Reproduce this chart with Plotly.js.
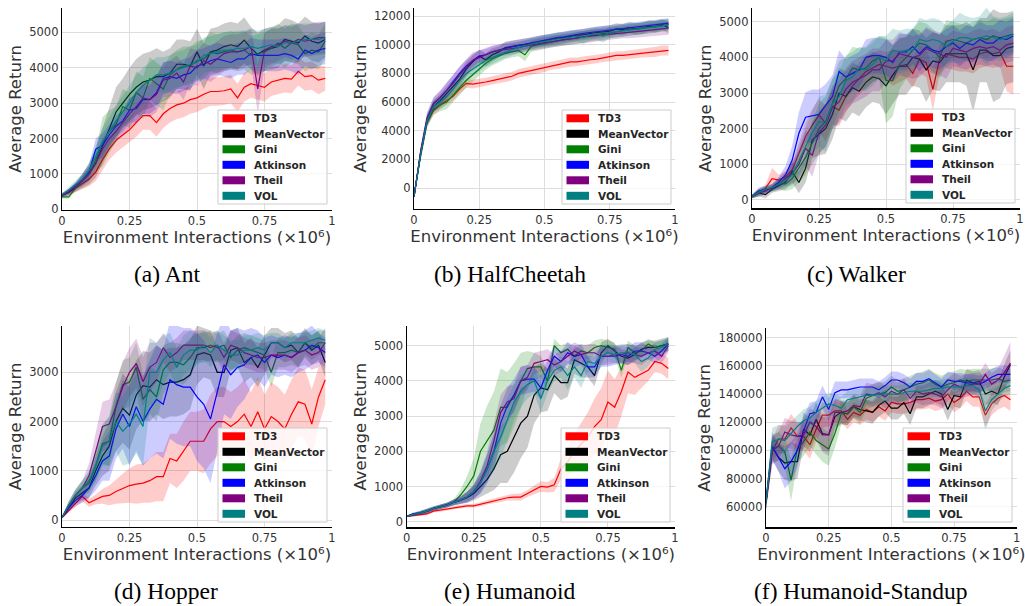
<!DOCTYPE html>
<html>
<head>
<meta charset="utf-8">
<script src="https://cdn.plot.ly/plotly-3.0.1.min.js"></script>
<style>html,body{margin:0;padding:0;background:#fff;}#chart{width:1025px;height:606px;}</style>
</head>
<body>
<div id="chart"></div>
<script>
// ---------------- DATA ----------------
const names = ['TD3','MeanVector','Gini','Atkinson','Theil','VOL'];
const steps = [0,0.025,0.05,0.075,0.1,0.125,0.15,0.175,0.2,0.225,0.25,0.275,0.3,0.325,0.35,0.375,0.4,0.425,0.45,0.475,0.5,0.525,0.55,0.575,0.6,0.625,0.65,0.675,0.7,0.725,0.75,0.775,0.8,0.825,0.85,0.875,0.9,0.925,0.95,0.975];
const xTickVals = [0,0.25,0.5,0.75,1];
const xTickText = ['0','0.25','0.5','0.75','1'];
const captions = ['(a) Ant','(b) HalfCheetah','(c) Walker','(d) Hopper','(e) Humanoid','(f) Humanoid-Standup'];

// Ant
const ant_td3   = [400,480,600,720,850,1050,1400,1700,1950,2100,2250,2450,2650,2650,2450,2700,2850,2950,3000,3100,3150,3250,3330,3330,3350,3400,3150,3450,3550,3500,3450,3600,3650,3700,3680,3900,3750,3780,3650,3700];
const ant_mv    = [400,480,620,800,1000,1300,1800,2300,2750,3000,3250,3450,3600,3650,3750,3750,3850,4100,4100,4050,4450,4050,4450,4500,4600,4650,4600,4780,4550,4380,4500,4550,4600,4800,4750,4700,4900,4750,4700,4800];
const ant_gini  = [350,350,600,800,1000,1400,1900,2200,2400,2900,2800,3300,3150,3700,3550,3400,3800,3950,4050,4050,4200,4250,4450,4400,4450,4500,4450,4500,4350,4400,4450,4550,4700,4550,4700,4650,4400,4500,4450,4750];
const ant_atk   = [400,500,650,850,1050,1700,1800,2100,2350,2500,2800,2850,3100,3100,3300,3700,3750,3700,3800,3850,4050,4100,4200,4250,4200,4150,4250,4250,4400,4350,4350,4350,4350,4400,4350,4250,4500,4400,4500,4550];
const ant_theil = [400,500,650,800,1000,1300,1700,2000,2200,2450,2700,2900,3150,3100,3250,3650,3700,3850,3600,4050,4000,4200,4100,4250,4400,4450,4450,4500,4600,3400,4500,4600,4650,4750,4700,4800,4750,4800,4850,4850];
const ant_vol   = [400,550,700,850,1100,1500,1900,2200,2500,2750,3000,3300,3500,3650,3800,3800,3850,3950,4000,4100,4150,4350,4400,4450,4500,4500,4550,4550,4600,4550,4600,4650,4600,4700,4700,4750,4800,4800,4800,4850];
const ant_td3_sd   = [50,80,100,150,200,250,300,300,350,350,350,400,400,400,400,400,400,400,400,400,400,400,400,400,400,400,400,400,400,400,400,400,400,400,400,400,400,400,400,350];
const ant_mv_sd    = [50,80,120,200,300,400,500,600,700,700,750,800,800,800,800,700,700,700,700,700,650,650,650,650,650,650,650,650,600,600,600,600,600,600,600,550,550,550,550,500];
const ant_gini_sd  = [50,50,80,150,200,300,700,600,500,500,500,600,600,600,600,600,550,550,550,550,550,550,550,550,550,550,550,550,550,550,550,550,550,550,550,550,500,500,500,500];
const ant_atk_sd   = [50,80,100,150,200,300,350,300,300,300,350,400,400,400,450,450,450,450,450,450,450,450,450,450,450,450,450,450,450,450,450,450,450,450,450,450,450,450,450,450];
const ant_theil_sd = [50,80,100,150,200,250,300,300,300,350,400,450,450,500,500,500,500,500,500,500,500,500,500,500,500,500,500,500,500,700,500,500,450,450,450,450,450,450,450,450];
const ant_vol_sd   = [50,80,100,150,200,300,400,400,450,450,500,500,500,500,500,500,500,500,500,500,500,500,500,500,500,500,500,500,500,500,500,500,500,500,500,500,450,450,450,450];

// HalfCheetah
const hc_td3   = [-600,2300,4600,5400,5800,6100,6400,6900,7300,7250,7300,7400,7500,7600,7700,7800,8000,8100,8200,8300,8400,8550,8600,8700,8800,8800,8900,8950,9000,9100,9150,9250,9250,9300,9350,9400,9450,9500,9600,9600];
const hc_mv    = [-600,2400,4700,5700,6100,6600,7100,7600,8300,8800,9200,8950,9300,9500,9800,9900,9950,10000,10100,10200,10300,10350,10450,10500,10600,10650,10700,10800,10850,10900,10950,11100,11050,11200,11100,11150,11300,11250,11400,11200];
const hc_gini  = [-600,2300,4600,5500,5800,6000,6500,7000,7500,7900,8300,8700,9000,9200,9400,9500,9600,9300,9900,10000,10100,10200,10300,10350,10400,10450,10550,10650,10700,10750,10850,10900,11000,11050,11100,11150,11200,11250,11300,11400];
const hc_atk   = [-600,2400,4800,5900,6300,6800,7400,8000,8500,8900,9200,9300,9500,9650,9750,9850,9950,10050,10150,10250,10350,10400,10500,10550,10650,10700,10800,10850,10900,10950,11000,11050,11100,11150,11200,11300,11350,11400,11450,11500];
const hc_theil = [-600,2500,4900,5900,6300,6800,7300,7900,8400,8900,9100,9300,9500,9600,9650,9700,9800,9900,10000,10100,10150,10200,10300,10350,10400,10500,10550,10600,10650,10700,10750,10800,10850,10850,10900,10950,11000,11050,11100,11150];
const hc_vol   = [-600,2300,4700,5700,6000,6400,6900,7500,8000,8300,8600,8900,9100,9300,9500,9650,9800,9950,10050,10150,10250,10300,10400,10450,10550,10600,10500,10700,10750,10600,10850,10900,10950,11000,11050,11100,11200,11250,11300,11400];
const hc_td3_sd   = [100,400,300,300,300,300,300,300,300,300,300,300,300,300,300,300,300,300,300,300,300,300,300,300,300,300,300,300,300,300,300,300,300,300,300,300,300,350,350,350];
const hc_mv_sd    = [100,400,400,400,450,500,500,500,500,450,450,450,450,400,400,400,400,400,400,400,400,400,400,400,400,400,400,400,400,400,400,400,400,400,400,400,400,400,400,400];
const hc_gini_sd  = [100,400,400,400,450,500,500,500,500,450,450,450,450,450,400,400,400,450,400,400,400,400,400,400,400,400,400,400,400,400,400,400,400,400,400,400,400,400,400,400];
const hc_atk_sd   = [100,400,400,400,450,500,500,500,450,450,400,400,400,400,400,400,400,400,350,350,350,350,350,350,350,350,350,350,350,350,350,350,350,350,350,350,350,350,350,350];
const hc_theil_sd = [100,400,400,450,500,550,600,600,600,550,500,450,450,400,400,400,400,400,400,400,400,400,400,400,400,400,400,400,400,400,400,400,400,400,450,450,450,450,450,450];
const hc_vol_sd   = [100,400,400,400,450,500,500,500,500,450,450,450,450,400,400,400,400,400,400,400,400,400,450,400,400,400,450,400,400,450,400,400,400,400,400,400,400,400,400,400];

// Walker
const wk_td3   = [100,200,330,600,560,650,840,1300,1780,2100,2380,2150,2620,2520,2900,3200,3400,3600,3700,3800,3750,3700,3750,3800,3550,3950,3850,3100,3950,4100,4050,4000,4000,3950,4100,4150,4100,4150,3750,3750];
const wk_mv    = [100,200,150,300,400,500,800,490,890,1680,1850,2000,2400,3000,2900,3150,3050,3300,3450,3400,3200,3500,3750,3750,4000,3950,3650,3900,3850,4100,4100,4100,4100,3650,4200,4200,4050,4050,4250,4300];
const wk_gini  = [100,200,280,330,450,450,600,900,1200,1600,2000,2200,2700,3200,3400,3700,3650,3700,3900,4000,3350,3350,3800,4000,4200,4400,4350,4200,4000,4450,4500,4450,4400,4500,4550,4500,4600,4550,4600,4650];
const wk_atk   = [100,250,300,350,500,700,1120,1870,2320,2350,2400,2650,2900,3600,3450,3550,3650,4000,4050,4050,4000,3850,4150,4150,4300,4100,4300,4200,4150,4300,4400,4250,4400,4350,4500,4400,4400,4550,4500,4600];
const wk_theil = [100,200,250,350,450,600,750,1000,1450,1250,1900,2100,2600,2750,3100,3300,3400,3500,3650,3650,3900,3900,4100,4050,4000,4050,4250,4150,4100,4000,4250,4200,4150,4250,4300,4250,4300,4200,4350,4400];
const wk_vol   = [100,220,300,350,450,550,700,1100,1500,1900,2200,2150,2700,2900,3350,3450,3700,3650,3800,4000,3900,4200,4150,4200,4200,4500,4450,4500,4450,4300,4450,4550,4550,4500,4550,4600,4550,4500,4550,4650];
const wk_td3_sd   = [50,80,100,300,150,150,200,300,400,450,450,500,500,450,450,450,450,450,400,400,400,500,450,400,400,400,400,600,400,400,400,400,400,400,400,400,400,400,700,800];
const wk_mv_sd    = [50,100,100,100,150,200,300,300,400,500,600,700,700,700,700,700,700,700,700,700,800,800,800,800,800,800,900,800,800,800,800,800,900,1200,900,900,1300,1200,1000,1000];
const wk_gini_sd  = [50,100,100,100,150,200,300,400,500,600,700,700,700,700,600,600,600,600,600,600,1200,1000,700,600,600,600,600,600,600,600,500,500,500,500,500,500,500,500,500,500];
const wk_atk_sd   = [50,100,100,100,150,250,400,600,700,750,700,600,600,600,500,500,500,500,500,500,500,500,500,500,500,500,500,500,500,500,500,500,500,500,500,500,500,500,500,500];
const wk_theil_sd = [50,100,100,100,150,200,300,400,500,600,600,600,600,600,600,600,600,600,600,600,600,600,600,600,600,600,600,600,600,600,500,500,500,500,500,500,500,500,500,500];
const wk_vol_sd   = [50,100,100,100,150,200,300,400,500,600,700,800,700,700,700,700,600,600,600,600,700,600,600,600,600,600,600,600,600,600,600,700,600,600,600,800,600,600,600,600];

// Hopper
const hp_td3   = [50,200,350,480,350,420,480,500,580,640,700,730,750,800,880,880,1250,1200,1400,1600,1600,1600,1850,2000,2000,1900,2000,2150,1900,2200,1850,2100,2000,1850,2150,2400,2350,1950,2500,2850];
const hp_mv    = [50,250,450,550,650,1000,1300,1500,2000,2270,2130,2540,2730,2700,2850,2750,2800,2800,2850,2950,3350,3400,3350,3000,3000,3450,3500,3200,3300,3100,3350,3600,3600,3500,3550,3400,3600,3450,3550,3200];
const hp_gini  = [50,300,500,650,750,1100,1550,1600,2300,2750,2800,3100,2450,2650,2500,3050,3200,3200,3150,3300,3500,3500,3550,3500,3550,3300,3450,3500,3450,3400,3350,3000,3400,3400,3450,3400,3600,3500,3600,3600];
const hp_atk   = [50,250,400,500,650,900,1200,1300,1850,2150,1900,2300,2000,2250,2450,2350,2850,2750,2700,2700,2500,2350,2050,2600,3150,2950,3100,3150,3300,3350,3200,3350,3300,3350,3300,3400,3450,3550,3500,3400];
const hp_theil = [50,300,500,650,900,1400,1900,1950,2300,2700,3000,3180,2810,3100,3200,3500,3300,3400,3550,3550,3550,3550,3500,3550,3300,3550,3500,3400,3350,3300,3300,3350,3350,3350,3300,3400,3450,3350,3400,3600];
const hp_vol   = [50,300,500,650,800,1100,1500,1600,2000,1800,1950,2150,1900,3000,3000,3250,3400,3100,3350,3450,3450,3550,3400,3550,3450,3350,3350,3450,3450,3500,3450,3600,3600,3500,3600,3600,3600,3650,3700,3650];
const hp_td3_sd   = [20,50,80,100,80,100,150,200,250,300,350,400,400,450,500,500,500,550,600,600,600,650,700,700,700,700,700,700,700,700,700,700,700,700,700,700,700,700,600,500];
const hp_mv_sd    = [20,80,120,150,200,300,400,500,600,700,700,700,700,700,700,700,700,700,700,700,600,500,500,500,500,400,400,400,400,400,400,300,300,300,300,300,300,300,300,300];
const hp_gini_sd  = [20,80,120,150,200,300,400,500,500,500,500,500,500,500,500,500,400,400,400,400,300,300,300,300,300,300,300,300,300,300,300,300,300,300,300,300,250,250,250,250];
const hp_atk_sd   = [20,80,120,150,200,300,400,500,600,700,800,900,900,1000,1100,1100,1200,1200,1200,1200,1300,1300,1300,1200,1000,900,800,700,600,500,500,400,400,400,400,400,400,400,300,300];
const hp_theil_sd = [20,80,120,150,250,400,500,500,500,500,500,500,500,500,400,300,300,300,300,300,300,300,300,300,300,300,300,300,300,300,300,300,300,300,300,300,300,300,300,300];
const hp_vol_sd   = [20,80,120,150,200,300,400,500,600,700,800,800,800,700,600,500,400,400,400,400,300,300,300,300,300,300,300,300,300,300,300,200,200,200,200,200,200,200,200,200];

// Humanoid
const hm_td3   = [150,170,180,220,300,330,360,400,430,450,450,500,550,600,640,680,700,700,800,900,1000,980,1050,1500,1700,2000,2200,2400,2700,2900,3400,3250,3700,4250,4100,4200,4300,4550,4500,4350];
const hm_mv    = [150,200,250,300,380,430,470,550,600,680,800,1000,1200,1500,1900,2000,2400,2800,3000,3600,3800,3750,4150,3950,3950,4600,4500,4400,4150,4800,5000,4850,4700,4650,4750,4900,4950,4950,5000,5050];
const hm_gini  = [150,220,250,300,380,430,470,550,750,1000,1300,2000,2300,2600,3250,3250,3600,4000,4350,4400,4400,4000,5000,4800,4900,4700,4850,4800,4950,5000,4950,4900,4300,4950,4800,4850,5050,4950,5000,5050];
const hm_atk   = [150,220,250,300,380,430,470,550,600,700,850,1100,1500,2000,2800,3300,3600,4000,4050,4050,3800,4300,4700,4550,4800,4700,4750,4400,4400,4700,4700,4700,4750,4700,4850,4850,4800,4700,4850,5050];
const hm_theil = [150,200,230,290,370,430,470,550,620,700,850,1150,1600,2300,3100,3400,3500,4000,4100,4500,4550,4600,4450,4550,4700,4850,4750,4800,4800,4700,4700,4750,4750,4800,4750,4700,4800,4850,4700,5000];
const hm_vol   = [150,200,250,300,380,430,470,550,600,700,850,1100,1500,2000,2400,2900,3400,3700,3900,4000,3500,4000,4300,4400,4150,4400,4150,4550,4500,4700,4800,4750,4800,4800,4750,4550,4650,4900,4950,5050];
const hm_td3_sd   = [20,30,30,40,40,50,50,50,50,50,50,60,60,70,80,80,90,100,100,120,150,150,200,300,400,500,600,700,800,900,900,800,700,600,500,400,300,300,300,300];
const hm_mv_sd    = [20,40,50,60,60,60,70,80,100,150,200,300,400,600,800,900,1000,1000,900,800,700,600,500,500,400,400,400,300,300,300,200,200,200,200,200,200,200,200,200,200];
const hm_gini_sd  = [20,40,50,60,60,60,70,80,150,300,500,800,1000,1100,1100,1000,900,800,500,400,300,300,200,200,200,200,200,200,200,200,200,200,200,200,200,200,150,150,150,150];
const hm_atk_sd   = [20,40,50,60,60,60,70,80,100,150,200,300,400,500,500,500,450,400,400,350,350,300,300,300,300,300,300,300,300,300,300,250,250,250,250,250,200,200,200,200];
const hm_theil_sd = [20,40,50,60,60,60,70,80,100,150,200,300,400,500,500,450,400,400,350,300,300,300,300,300,250,250,250,250,250,250,250,250,250,250,250,250,200,200,200,200];
const hm_vol_sd   = [20,40,50,60,60,60,70,80,100,150,200,300,400,500,600,600,500,450,400,350,400,350,300,300,400,300,350,300,300,300,250,250,250,250,250,300,250,200,200,200];

// Humanoid-Standup
const hs_td3   = [63000,100000,108000,108000,116000,110000,110000,104000,115000,125000,125000,128000,128000,122000,127000,125000,129000,127000,131000,128000,134000,133000,133000,134000,136000,136000,137000,135000,136000,140000,134000,137000,142000,138000,138000,125000,133000,137000,139000,136000];
const hs_mv    = [63000,102000,95000,91000,92000,92000,115000,111000,122000,112000,111000,124000,127000,126000,131000,129000,128000,127000,132000,135000,130000,130000,134000,126000,138000,138000,140000,142000,140000,129000,139000,138000,150000,148000,149000,140000,142000,140000,152000,161000];
const hs_gini  = [63000,101000,103000,99000,79000,101000,106000,113000,107000,104000,101000,112000,126000,126000,131000,127000,137000,139000,140000,141000,145000,142000,143000,145000,147000,148000,150000,147000,145000,147000,148000,150000,149000,150000,150000,150000,150000,151000,149000,150000];
const hs_atk   = [63000,103000,95000,87000,92000,100000,114000,126000,127000,138000,129000,141000,143000,143000,144000,145000,145000,145000,143000,146000,150000,150000,148000,145000,149000,149000,151000,148000,145000,150000,149000,149000,148000,148000,147000,149000,152000,154000,154000,154000];
const hs_theil = [63000,100000,103000,113000,111000,110000,111000,120000,117000,111000,111000,127000,127000,128000,132000,131000,140000,139000,141000,138000,142000,140000,143000,137000,142000,140000,141000,140000,138000,143000,147000,145000,146000,147000,147000,154000,147000,150000,155000,162000];
const hs_vol   = [63000,106000,108000,107000,112000,117000,121000,123000,127000,130000,133000,132000,130000,136000,137000,138000,139000,139000,140000,140000,140000,140000,141000,142000,142000,142000,143000,144000,144000,145000,145000,145000,146000,146000,143000,128000,136000,140000,144000,146000];
const hs_td3_sd   = [5000,8000,10000,10000,10000,10000,10000,10000,9000,9000,8000,8000,8000,7000,7000,7000,7000,7000,7000,7000,7000,7000,7000,7000,7000,7000,7000,7000,7000,7000,7000,7000,7000,7000,7000,8000,8000,8000,8000,8000];
const hs_mv_sd    = [5000,8000,10000,12000,14000,12000,12000,12000,12000,12000,12000,10000,8000,8000,8000,8000,8000,8000,8000,8000,8000,8000,8000,8000,8000,8000,8000,8000,8000,8000,8000,8000,8000,8000,8000,8000,8000,8000,9000,10000];
const hs_gini_sd  = [5000,10000,10000,10000,15000,10000,10000,10000,10000,12000,12000,10000,8000,8000,8000,8000,8000,8000,8000,8000,8000,8000,8000,8000,8000,8000,8000,8000,8000,8000,8000,8000,8000,8000,8000,8000,8000,8000,8000,8000];
const hs_atk_sd   = [5000,10000,10000,14000,14000,12000,10000,8000,8000,8000,8000,8000,6000,6000,6000,6000,6000,6000,6000,6000,6000,6000,6000,6000,6000,6000,6000,6000,6000,6000,6000,6000,6000,6000,6000,6000,6000,6000,6000,6000];
const hs_theil_sd = [5000,10000,10000,10000,10000,10000,10000,10000,10000,12000,15000,10000,8000,8000,8000,8000,8000,8000,8000,8000,8000,8000,8000,8000,8000,8000,8000,8000,8000,8000,8000,8000,8000,8000,8000,8000,8000,8000,12000,15000];
const hs_vol_sd   = [5000,10000,10000,10000,8000,8000,8000,8000,8000,8000,8000,8000,8000,6000,6000,6000,6000,6000,6000,6000,6000,6000,6000,6000,6000,6000,6000,6000,6000,6000,6000,6000,6000,6000,6000,15000,8000,6000,6000,6000];

const yTicks = [
  [0,1000,2000,3000,4000,5000],
  [0,2000,4000,6000,8000,10000,12000],
  [0,1000,2000,3000,4000,5000],
  [0,1000,2000,3000],
  [0,1000,2000,3000,4000,5000],
  [60000,80000,100000,120000,140000,160000,180000]
];
const yRanges = [[-20,5690],[-1460,12560],[-233,5375],[-135,3940],[-160,5560],[45370,186700]];

// ---------------- STYLE / LAYOUT ----------------
const W = 1025, H = 606;
const colors = ['#ff0000','#000000','#008000','#0000ff','#800080','#008080'];
const bandColors = ['rgba(255,0,0,0.2)','rgba(0,0,0,0.2)','rgba(0,128,0,0.2)','rgba(0,0,255,0.2)','rgba(128,0,128,0.2)','rgba(0,128,128,0.2)'];
// plot areas in pixels: [left, right, top, bottom]
const boxes = [
  [62,332,8,210],[414,675,8,209],[752,1020,8.3,208.3],
  [62,332,326,526.7],[406.7,675,326,527.3],[766,1016.7,328.3,527.3]
];
const legendBR = [[327,204],[671,204],[1015,203],[327,522],[670,522],[1012,522]];
const captionPos = [[167,274],[510,274],[856,274],[166,591],[509,591],[860,591]];

const panelMeans = [
  [ant_td3,ant_mv,ant_gini,ant_atk,ant_theil,ant_vol],
  [hc_td3,hc_mv,hc_gini,hc_atk,hc_theil,hc_vol],
  [wk_td3,wk_mv,wk_gini,wk_atk,wk_theil,wk_vol],
  [hp_td3,hp_mv,hp_gini,hp_atk,hp_theil,hp_vol],
  [hm_td3,hm_mv,hm_gini,hm_atk,hm_theil,hm_vol],
  [hs_td3,hs_mv,hs_gini,hs_atk,hs_theil,hs_vol]
];
const panelSds = [
  [ant_td3_sd,ant_mv_sd,ant_gini_sd,ant_atk_sd,ant_theil_sd,ant_vol_sd],
  [hc_td3_sd,hc_mv_sd,hc_gini_sd,hc_atk_sd,hc_theil_sd,hc_vol_sd],
  [wk_td3_sd,wk_mv_sd,wk_gini_sd,wk_atk_sd,wk_theil_sd,wk_vol_sd],
  [hp_td3_sd,hp_mv_sd,hp_gini_sd,hp_atk_sd,hp_theil_sd,hp_vol_sd],
  [hm_td3_sd,hm_mv_sd,hm_gini_sd,hm_atk_sd,hm_theil_sd,hm_vol_sd],
  [hs_td3_sd,hs_mv_sd,hs_gini_sd,hs_atk_sd,hs_theil_sd,hs_vol_sd]
];

const FONT = 'DejaVu Sans, Verdana, sans-serif';
const px = v => v / W;
const py = v => 1 - v / H;

const traces = [];
const shapes = [];
const annotations = [];
const layout = {
  width: W, height: H,
  margin: {l:0, r:0, t:0, b:0},
  paper_bgcolor: '#ffffff', plot_bgcolor: '#ffffff',
  showlegend: false,
  separators: '.',
  font: {family: FONT, color: '#333333'}
};

panelMeans.forEach((means, p) => {
  const sfx = p === 0 ? '' : String(p + 1);
  const xa = 'x' + sfx, ya = 'y' + sfx;
  const b = boxes[p];
  means.forEach((m, s) => {
    const sd = panelSds[p][s];
    const upper = m.map((v, i) => v + sd[i]);
    const lower = m.map((v, i) => v - sd[i]);
    traces.push({
      type: 'scatter', mode: 'lines', xaxis: xa, yaxis: ya,
      x: steps.concat(steps.slice().reverse()),
      y: upper.concat(lower.slice().reverse()),
      fill: 'toself', fillcolor: bandColors[s], line: {width: 0},
      hoverinfo: 'skip', showlegend: false
    });
    traces.push({
      type: 'scatter', mode: 'lines', xaxis: xa, yaxis: ya,
      x: steps, y: m, name: names[s],
      line: {color: colors[s], width: 1.2}, showlegend: false
    });
  });
  layout['xaxis' + sfx] = {
    domain: [px(b[0]), px(b[1])], range: [0, 1], anchor: ya,
    tickmode: 'array', tickvals: xTickVals, ticktext: xTickText,
    showgrid: true, gridcolor: '#dddddd', gridwidth: 1, zeroline: false,
    showline: true, linecolor: '#000000', linewidth: 1.2, ticks: '',
    tickfont: {family: FONT, size: 11.5, color: '#333333'},
    title: {text: 'Environment Interactions (×10⁶)', font: {family: FONT, size: 16.5, color: '#333333'}, standoff: 3}
  };
  layout['yaxis' + sfx] = {
    domain: [py(b[3]), py(b[2])], range: yRanges[p], anchor: xa,
    tickmode: 'array', tickvals: yTicks[p], ticktext: yTicks[p].map(v => String(v)),
    showgrid: true, gridcolor: '#dddddd', gridwidth: 1, zeroline: false,
    showline: true, linecolor: '#000000', linewidth: 1.2, ticks: '',
    tickfont: {family: FONT, size: 11.5, color: '#333333'},
    title: {text: 'Average Return', font: {family: FONT, size: 16.5, color: '#333333'}, standoff: 3}
  };
  // custom legend (box, swatches, labels)
  const R = legendBR[p][0], B = legendBR[p][1];
  const LW = 109, LH = 94, L = R - LW, T = B - LH;
  shapes.push({type:'rect', xref:'paper', yref:'paper', x0:px(L), x1:px(R), y0:py(B), y1:py(T),
    line:{color:'#cccccc', width:1}, fillcolor:'rgba(255,255,255,0.8)', layer:'above'});
  names.forEach((n, k) => {
    const cy = T + 8.3 + k * 15.5;
    shapes.push({type:'rect', xref:'paper', yref:'paper', x0:px(L+4.5), x1:px(L+27), y0:py(cy+4), y1:py(cy-4),
      fillcolor: colors[k], line:{width:0}, layer:'above'});
    annotations.push({xref:'paper', yref:'paper', x:px(L+33.5), y:py(cy), xanchor:'left', yanchor:'middle',
      text:'<b>' + n + '</b>', showarrow:false, font:{family: FONT, size: 10.5, color:'#262626'}});
  });
  annotations.push({xref:'paper', yref:'paper', x:px(captionPos[p][0]), y:py(captionPos[p][1]), xanchor:'center', yanchor:'middle',
    text: captions[p], showarrow:false, font:{family:'Liberation Serif, Times New Roman, serif', size: 23.5, color:'#000000'}});
});
layout.shapes = shapes;
layout.annotations = annotations;

Plotly.newPlot('chart', traces, layout, {staticPlot: true, displayModeBar: false});
</script>
</body>
</html>
